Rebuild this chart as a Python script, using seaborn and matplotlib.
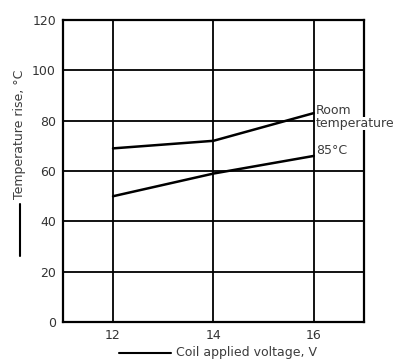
import pandas as pd
import numpy as np
import matplotlib
matplotlib.use('Agg')
import matplotlib.pyplot as plt
from matplotlib.lines import Line2D
import seaborn as sns

# data
voltage = [12, 14, 16]
room_temp = [69, 72, 83]
hot_85 = [50, 59, 66]
series_names = ['Room\ntemperature', '85°C']

df = pd.DataFrame({
    'voltage': voltage * 2,
    'rise': room_temp + hot_85,
    'series': [series_names[0]] * 3 + [series_names[1]] * 3
})

sns.set_style('white')
plt.rcParams['font.family'] = ['DejaVu Sans']

fig = plt.figure(figsize=(4.03, 3.62), dpi=100)
ax = fig.add_axes([0.156, 0.110, 0.747, 0.835])

sns.lineplot(
    data=df, x='voltage', y='rise', hue='series',
    palette=['black', 'black'], linewidth=1.8, legend=False, ax=ax
)

ax.set_xlim(11, 17)
ax.set_ylim(0, 120)
ax.set_xticks(voltage)
ax.set_yticks(np.arange(0, 121, 20))
ax.grid(True, color='black', linewidth=1.3)
ax.set_axisbelow(True)
for s in ax.spines.values():
    s.set_color('black')
    s.set_linewidth(1.6)
ax.tick_params(axis='both', length=0, labelsize=9, colors='#333333', pad=5)

txt = '#3c3c3c'
ax.set_xlabel('Coil applied voltage, V', fontsize=9, color=txt, labelpad=3)
ax.set_ylabel('Temperature rise, \u00b0C', fontsize=9, color=txt, labelpad=4)
ax.xaxis.label.set_x(0.61)
ax.yaxis.label.set_y(0.62)

# end-of-line labels
ax.text(16.04, room_temp[-1] + 3.5, 'Room', fontsize=9, color=txt,
        va='top', ha='left', clip_on=False,
        bbox=dict(facecolor='white', edgecolor='none', pad=0.2))
ax.text(16.04, room_temp[-1] - 1.5, 'temperature', fontsize=9, color=txt,
        va='top', ha='left', clip_on=False, zorder=5,
        bbox=dict(facecolor='white', edgecolor='none', pad=0.2))
ax.text(16.04, hot_85[-1] - 0.5, series_names[1], fontsize=9, color=txt,
        va='bottom', ha='left', clip_on=False,
        bbox=dict(facecolor='white', edgecolor='none', pad=0.2))

# short leader lines in front of the axis labels
fig.canvas.draw()
W, H = fig.bbox.width, fig.bbox.height
bx = ax.xaxis.label.get_window_extent()
yc = (bx.y0 + bx.y1) / 2
fig.add_artist(Line2D([(bx.x0 - 57) / W, (bx.x0 - 5) / W], [yc / H, yc / H],
                      color='black', lw=1.5))
by = ax.yaxis.label.get_window_extent()
xc = (by.x0 + by.x1) / 2
fig.add_artist(Line2D([xc / W, xc / W], [(by.y0 - 57) / H, (by.y0 - 5) / H],
                      color='black', lw=1.5))

fig.savefig('out.png', dpi=100)
